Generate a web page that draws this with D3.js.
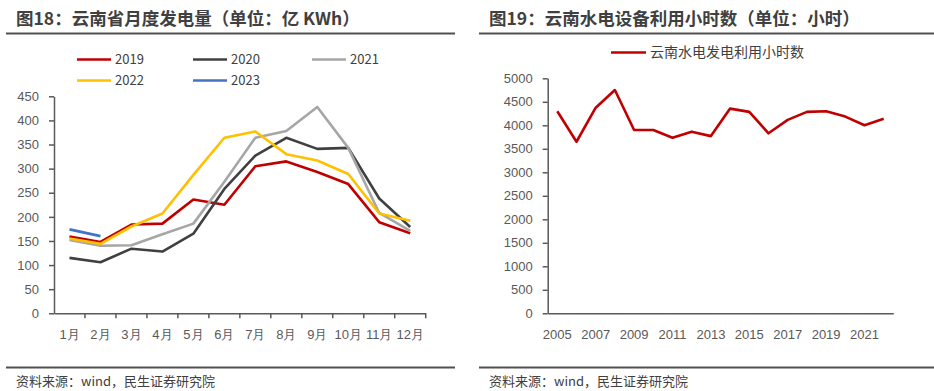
<!DOCTYPE html>
<html>
<head>
<meta charset="utf-8">
<script src="https://cdn.jsdelivr.net/npm/d3@7"></script>
<style>
  html, body { margin: 0; padding: 0; background: #fff; }
  svg { display: block; font-family: "Microsoft YaHei", "Noto Sans CJK SC", sans-serif; }
  .axis path, .axis line { stroke: #595959; stroke-width: 1.5; }
  .axis text { fill: #595959; font-size: 13px; }
</style>
</head>
<body>
<svg id="chart" width="934" height="391"></svg>
<script>
// Left chart: monthly generation (亿 KWh)
const months = ['1月', '2月', '3月', '4月', '5月', '6月', '7月', '8月', '9月', '10月', '11月', '12月'];
const gen2019 = [159, 148, 184, 186, 236, 225, 305, 315, 293, 268, 189, 166];
const gen2020 = [115, 106, 134, 128, 165, 258, 327, 364, 341, 343, 238, 179];
const gen2021 = [152, 140, 141, 164, 186, 273, 364, 378, 428, 343, 208, 171];
const gen2022 = [155, 144, 180, 207, 287, 364, 377, 330, 317, 289, 207, 192];
const gen2023 = [174, 160];
const leftTicks = [0, 50, 100, 150, 200, 250, 300, 350, 400, 450];

// Right chart: hydro utilisation hours
const years = ['2005', '2006', '2007', '2008', '2009', '2010', '2011', '2012', '2013',
    '2014', '2015', '2016', '2017', '2018', '2019', '2020', '2021', '2022'];
const hours = [4300, 3650, 4375, 4750, 3900, 3900, 3735, 3865, 3770,
    4355, 4285, 3830, 4115, 4285, 4300, 4185, 4000, 4140];
const rightTicks = [0, 500, 1000, 1500, 2000, 2500, 3000, 3500, 4000, 4500, 5000];

const seriesLeft = [
    { name: '2019', values: gen2019, color: '#c00000' },
    { name: '2020', values: gen2020, color: '#404040' },
    { name: '2021', values: gen2021, color: '#a6a6a6' },
    { name: '2022', values: gen2022, color: '#ffc000' },
    { name: '2023', values: gen2023, color: '#4472c4' }
];

const svg = d3.select('#chart');

// Titles, rules and source notes
function drawFrame(x0, x1, title) {
    svg.append('text')
        .attr('x', x0 + 10)
        .attr('y', 25)
        .attr('font-size', 17.5)
        .attr('font-weight', 'bold')
        .attr('fill', '#404040')
        .text(title);
    svg.append('line')
        .attr('x1', x0).attr('x2', x1)
        .attr('y1', 33.5).attr('y2', 33.5)
        .attr('stroke', '#505050').attr('stroke-width', 2);
    svg.append('line')
        .attr('x1', x0).attr('x2', x1)
        .attr('y1', 367.5).attr('y2', 367.5)
        .attr('stroke', '#505050').attr('stroke-width', 2);
    svg.append('text')
        .attr('x', x0 + 10)
        .attr('y', 386)
        .attr('font-size', 13)
        .attr('fill', '#404040')
        .text('资料来源：wind，民生证券研究院');
}
drawFrame(6, 455, '图18：云南省月度发电量（单位：亿 KWh）');
drawFrame(479, 934, '图19：云南水电设备利用小时数（单位：小时）');

// ---- Left chart ----
const xL = d3.scaleBand().domain(months).range([54, 425.7]);
const yL = d3.scaleLinear().domain([0, 450]).range([313.3, 96.3]);

svg.append('g')
    .attr('class', 'axis')
    .attr('transform', 'translate(54,0)')
    .call(d3.axisLeft(yL).tickValues(leftTicks).tickSize(5).tickPadding(6).tickSizeOuter(0))
    .call(g => g.selectAll('text').attr('dx', '-4'));

const xAxisL = svg.append('g')
    .attr('class', 'axis')
    .attr('transform', 'translate(0,313.3)')
    .call(d3.axisBottom(xL).tickSize(0).tickPadding(16));
// tick marks between categories
xAxisL.selectAll('.sep')
    .data(months)
    .enter()
    .append('line')
    .attr('class', 'sep')
    .attr('x1', d => xL(d) + xL.bandwidth())
    .attr('x2', d => xL(d) + xL.bandwidth())
    .attr('y1', 0).attr('y2', 5);

const lineL = d3.line()
    .x((d, i) => xL(months[i]) + xL.bandwidth() / 2)
    .y(d => yL(d));

svg.append('g').selectAll('path')
    .data(seriesLeft)
    .enter()
    .append('path')
    .attr('d', d => lineL(d.values))
    .attr('fill', 'none')
    .attr('stroke', d => d.color)
    .attr('stroke-width', 2.6)
    .attr('stroke-linejoin', 'round');

// legend
const legendPos = [[77, 59.5], [193, 59.5], [312, 59.5], [77, 80.5], [193, 80.5]];
const legL = svg.append('g').selectAll('g')
    .data(seriesLeft)
    .enter()
    .append('g')
    .attr('transform', (d, i) => `translate(${legendPos[i][0]},${legendPos[i][1]})`);
legL.append('line')
    .attr('x1', 0).attr('x2', 34)
    .attr('stroke', d => d.color)
    .attr('stroke-width', 2.6);
legL.append('text')
    .attr('x', 38)
    .attr('dy', '0.35em')
    .attr('font-size', 13)
    .attr('fill', '#404040')
    .text(d => d.name);

// ---- Right chart ----
const xR = d3.scaleBand().domain(years).range([547.7, 893.3]);
const yR = d3.scaleLinear().domain([0, 5000]).range([313.3, 78.3]);

svg.append('g')
    .attr('class', 'axis')
    .attr('transform', 'translate(547.7,0)')
    .call(d3.axisLeft(yR).tickValues(rightTicks).tickFormat(d3.format('d'))
        .tickSize(5).tickPadding(6).tickSizeOuter(0))
    .call(g => g.selectAll('text').attr('dx', '-4'));

svg.append('g')
    .attr('class', 'axis')
    .attr('transform', 'translate(0,313.3)')
    .call(d3.axisBottom(xR).tickSize(0).tickPadding(16).tickSizeOuter(0)
        .tickFormat((d, i) => i % 2 === 0 ? d : ''));

const lineR = d3.line()
    .x((d, i) => xR(years[i]) + xR.bandwidth() / 2)
    .y(d => yR(d));

svg.append('path')
    .attr('d', lineR(hours))
    .attr('fill', 'none')
    .attr('stroke', '#c00000')
    .attr('stroke-width', 2.6)
    .attr('stroke-linejoin', 'round');

const legR = svg.append('g').attr('transform', 'translate(611,52.5)');
legR.append('line')
    .attr('x1', 0).attr('x2', 35)
    .attr('stroke', '#c00000')
    .attr('stroke-width', 2.6);
legR.append('text')
    .attr('x', 39)
    .attr('dy', '0.35em')
    .attr('font-size', 14)
    .attr('fill', '#404040')
    .text('云南水电发电利用小时数');
</script>
</body>
</html>
